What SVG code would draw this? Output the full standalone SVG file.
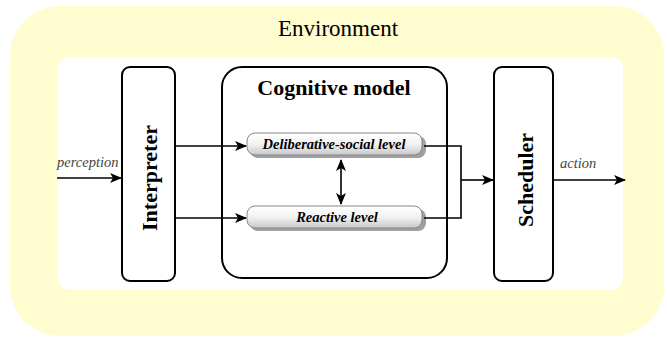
<svg xmlns="http://www.w3.org/2000/svg" width="667" height="339" viewBox="0 0 667 339">
<defs>
<marker id="ah" viewBox="0 0 12 10" refX="11" refY="5" markerWidth="12" markerHeight="10" markerUnits="userSpaceOnUse" orient="auto-start-reverse">
<path d="M0,0 L12,5 L0,10 L3,5 Z" fill="#000"/>
</marker>
<linearGradient id="lg" x1="0" y1="0" x2="0" y2="1">
<stop offset="0" stop-color="#ffffff"/>
<stop offset="0.5" stop-color="#f2f2f2"/>
<stop offset="1" stop-color="#c8c8c8"/>
</linearGradient>
<style>
.box{fill:#fff;stroke:#000;stroke-width:2}
.lvl{fill:url(#lg);stroke:#888;stroke-width:1}
.sh{fill:#a0a0a0}
.ttl{font-family:"Liberation Serif",serif;font-weight:bold;font-size:22px;fill:#000;text-anchor:middle}
.lt{font-family:"Liberation Serif",serif;font-weight:bold;font-style:italic;font-size:14.5px;fill:#000;text-anchor:middle}
.io{font-family:"Liberation Serif",serif;font-style:italic;font-size:14.5px;fill:#444}
.c{fill:none;stroke:#000;stroke-width:1.6}
</style>
</defs>
<rect x="10" y="6" width="654" height="330" rx="50" fill="#fffccf"/>
<rect x="58" y="57" width="565" height="233" rx="12" fill="#fff"/>
<text x="338" y="36" font-family="Liberation Serif, serif" font-size="23" text-anchor="middle" fill="#000">Environment</text>

<g id="interpreter">
<rect class="box" x="122" y="67" width="53" height="214" rx="8"/>
<text class="ttl" transform="translate(157,178) rotate(-90)">Interpreter</text>
</g>
<g id="cognitive">
<rect class="box" x="222" y="67" width="225" height="211" rx="20"/>
<text class="ttl" x="334" y="95">Cognitive model</text>
</g>
<g id="deliberative">
<rect class="sh" x="250" y="136" width="176" height="22" rx="8"/>
<rect class="lvl" x="247" y="133" width="175" height="22" rx="8"/>
<text class="lt" x="334" y="149">Deliberative-social level</text>
</g>
<g id="reactive">
<rect class="sh" x="250" y="209" width="176" height="22" rx="8"/>
<rect class="lvl" x="247" y="206" width="175" height="22" rx="8"/>
<text class="lt" x="337" y="222">Reactive level</text>
</g>
<g id="scheduler">
<rect class="box" x="494" y="67" width="59" height="214" rx="8"/>
<text class="ttl" transform="translate(533,180) rotate(-90)">Scheduler</text>
</g>

<g id="connectors">
<line class="c" x1="57" y1="178" x2="121" y2="178" marker-end="url(#ah)"/>
<line class="c" x1="175" y1="146" x2="246" y2="146" marker-end="url(#ah)"/>
<line class="c" x1="175" y1="218" x2="246" y2="218" marker-end="url(#ah)"/>
<line class="c" x1="341" y1="160" x2="341" y2="204" marker-start="url(#ah)" marker-end="url(#ah)"/>
<polyline class="c" points="424,146 461,146 461,218 424,218"/>
<line class="c" x1="461" y1="180" x2="493" y2="180" marker-end="url(#ah)"/>
<line class="c" x1="553" y1="180" x2="625" y2="180" marker-end="url(#ah)"/>
<text class="io" x="57" y="167">perception</text>
<text class="io" x="560" y="168">action</text>
</g>
</svg>
